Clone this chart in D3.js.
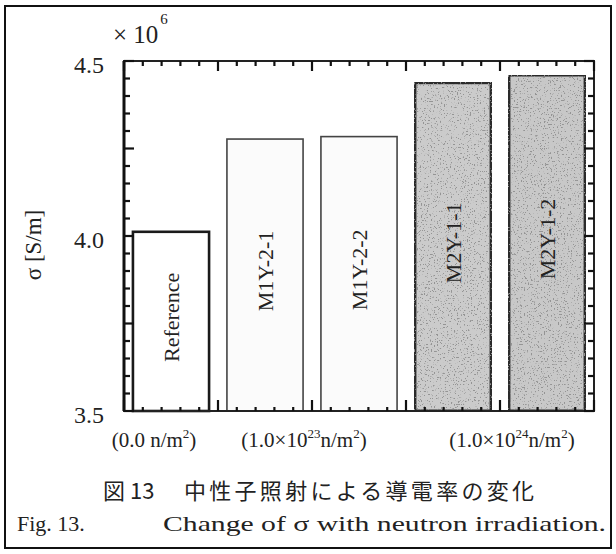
<!DOCTYPE html>
<html>
<head>
<meta charset="utf-8">
<script src="https://cdn.jsdelivr.net/npm/d3@7"></script>
<style>
  body { margin: 0; background: #fff; }
  svg { display: block; }
</style>
</head>
<body>
<div id="chart"></div>
<script>
// DATA
const categories = ["Reference", "M1Y-2-1", "M1Y-2-2", "M2Y-1-1", "M2Y-1-2"];
const sigmaValues = [4.012, 4.277, 4.284, 4.438, 4.460];   // x 10^6 S/m
const fluenceGroup = [0, 1, 1, 2, 2];
const fluenceLabels = [
  [["(0.0 n/m", ""], ["2", "sup"], [")", ""]],
  [["(1.0×10", ""], ["23", "sup"], ["n/m", ""], ["2", "sup"], [")", ""]],
  [["(1.0×10", ""], ["24", "sup"], ["n/m", ""], ["2", "sup"], [")", ""]]
];
const yTickValues = [3.5, 4.0, 4.5];
const yTickLabels = ["3.5", "4.0", "4.5"];

function draw() {
  const W = 616, H = 554;
  const plot = {left: 124, right: 594, top: 61, bottom: 411};

  const svg = d3.select("#chart").append("svg")
    .attr("width", W)
    .attr("height", H);

  // speckle texture for the shaded bars (sparse dark dots)
  const defs = svg.append("defs");
  const f = defs.append("filter").attr("id", "grain")
    .attr("x", 0).attr("y", 0).attr("width", 1).attr("height", 1);
  f.append("feTurbulence").attr("type", "fractalNoise")
    .attr("baseFrequency", 0.7).attr("numOctaves", 2).attr("seed", 5).attr("result", "noise");
  f.append("feColorMatrix").attr("in", "noise").attr("type", "matrix")
    .attr("values", "0 0 0 0 0.3  0 0 0 0 0.3  0 0 0 0 0.3  -12 0 0 0 4.6")
    .attr("result", "dots");
  f.append("feComposite").attr("in", "dots").attr("in2", "SourceGraphic").attr("operator", "in").attr("result", "d2");
  f.append("feMerge").call(m => {
    m.append("feMergeNode").attr("in", "SourceGraphic");
    m.append("feMergeNode").attr("in", "d2");
  });

  // outer figure border
  svg.append("rect")
    .attr("x", 5).attr("y", 6)
    .attr("width", 606).attr("height", 542)
    .attr("fill", "none")
    .attr("stroke", "#111")
    .attr("stroke-width", 2);

  // SCALES
  const xs = d3.scaleBand()
    .domain(categories)
    .range([plot.left, plot.right])
    .paddingInner(0.19)
    .paddingOuter(0.095);

  const xt = d3.scaleLinear().domain([0, categories.length]).range([plot.left, plot.right]);

  const ys = d3.scaleLinear()
    .domain([3.5, 4.5])
    .range([plot.bottom, plot.top]);

  // BARS
  const fills = ["#ffffff", "#fbfbfb", "#fbfbfb", "#cbcbcb", "#c8c8c8"];
  const strokes = ["#1a1a1a", "#444", "#444", "#2a2a2a", "#2a2a2a"];
  const widths = [2.6, 1.6, 1.6, 3, 3];

  const bars = svg.selectAll("g.bar")
    .data(categories)
    .enter().append("g")
    .attr("class", "bar");

  bars.append("rect")
    .attr("x", d => xs(d))
    .attr("y", (d, i) => ys(sigmaValues[i]))
    .attr("width", xs.bandwidth())
    .attr("height", (d, i) => ys(3.5) - ys(sigmaValues[i]))
    .attr("fill", (d, i) => fills[i])
    .attr("filter", (d, i) => i >= 3 ? "url(#grain)" : null)
    .attr("stroke", (d, i) => strokes[i])
    .attr("stroke-width", (d, i) => widths[i]);

  bars.append("text")
    .attr("transform", (d, i) => {
      const cx = xs(d) + xs.bandwidth() / 2;
      const cy = (ys(sigmaValues[i]) + ys(3.5)) / 2 - 4;
      return `translate(${cx},${cy}) rotate(-90)`;
    })
    .attr("text-anchor", "middle")
    .attr("dy", "0.35em")
    .style("font-family", "Liberation Serif, serif")
    .style("font-size", "22px")
    .style("fill", "#222")
    .text(d => d);

  // FRAME + TICKS
  svg.append("rect")
    .attr("x", plot.left).attr("y", plot.top)
    .attr("width", plot.right - plot.left)
    .attr("height", plot.bottom - plot.top)
    .attr("fill", "none")
    .attr("stroke", "#222")
    .attr("stroke-width", 2);
  // left axis is drawn heavier in the original
  svg.append("line")
    .attr("x1", plot.left).attr("x2", plot.left)
    .attr("y1", plot.top).attr("y2", plot.bottom)
    .attr("stroke", "#111").attr("stroke-width", 3);

  const yMinor = d3.range(0, 21).map(i => 3.5 + i * 0.05);
  const tickG = svg.append("g").attr("stroke", "#111").attr("stroke-width", 2.2);

  yMinor.forEach((v, i) => {
    const len = i % 5 === 0 ? 10 : 6;
    tickG.append("line")
      .attr("x1", plot.left).attr("x2", plot.left + len)
      .attr("y1", ys(v)).attr("y2", ys(v));
    tickG.append("line")
      .attr("x1", plot.right).attr("x2", plot.right - len)
      .attr("y1", ys(v)).attr("y2", ys(v));
  });

  const xMinor = d3.range(0, categories.length * 5 + 1).map(i => i / 5);
  xMinor.forEach((v, i) => {
    const major = i % 5 === 0;
    tickG.append("line")
      .attr("x1", xt(v)).attr("x2", xt(v))
      .attr("y1", plot.top).attr("y2", plot.top + (major ? 10 : 5));
    tickG.append("line")
      .attr("x1", xt(v)).attr("x2", xt(v))
      .attr("y1", plot.bottom).attr("y2", plot.bottom - (major ? 11 : 4));
  });

  // Y tick labels
  svg.selectAll("text.ytick")
    .data(yTickValues)
    .enter().append("text")
    .attr("class", "ytick")
    .attr("x", 104)
    .attr("y", d => ys(d) + 4)
    .attr("dy", "0.35em")
    .attr("text-anchor", "end")
    .style("font-family", "Liberation Serif, serif")
    .style("font-size", "24px")
    .style("fill", "#222")
    .text((d, i) => yTickLabels[i]);

  // x 10^6
  const mult = svg.append("text")
    .attr("x", 113).attr("y", 43)
    .style("font-family", "Liberation Serif, serif")
    .style("font-size", "25px")
    .style("fill", "#222");
  mult.append("tspan").text("× 10");
  mult.append("tspan").attr("dx", 2).attr("dy", -19).style("font-size", "15px").text("6");

  // y axis title
  svg.append("text")
    .attr("transform", "translate(41,245) rotate(-90)")
    .attr("text-anchor", "middle")
    .style("font-family", "Liberation Serif, serif")
    .style("font-size", "23px")
    .style("fill", "#222")
    .text("σ [S/m]");

  // fluence group labels under the axis
  const groupCenters = fluenceLabels.map((p, g) => {
    const members = categories.filter((c, i) => fluenceGroup[i] === g);
    return d3.mean(members, c => xs(c) + xs.bandwidth() / 2);
  });
  const groupShift = [-17, -8, 12];

  fluenceLabels.forEach((parts, g) => {
    const t = svg.append("text")
      .attr("x", groupCenters[g] + groupShift[g])
      .attr("y", 447)
      .attr("text-anchor", "middle")
      .style("font-family", "Liberation Serif, serif")
      .style("font-size", "21px")
      .style("fill", "#222");
    parts.forEach(([s, kind], k) => {
      const prev = k > 0 ? parts[k - 1][1] : "";
      const sp = t.append("tspan").text(s);
      if (kind === "sup") sp.attr("dy", -9).style("font-size", "13px");
      else if (prev === "sup") sp.attr("dy", 9);
    });
  });

  // captions
  svg.append("text")
    .attr("x", 103).attr("y", 499)
    .style("font-family", "Noto Sans CJK JP, sans-serif")
    .style("font-size", "22px")
    .style("fill", "#222")
    .text("図 13");

  svg.append("text")
    .attr("x", 184).attr("y", 499)
    .attr("textLength", 350)
    .attr("lengthAdjust", "spacing")
    .style("font-family", "Noto Sans CJK JP, sans-serif")
    .style("font-size", "22px")
    .style("fill", "#222")
    .text("中性子照射による導電率の変化");

  svg.append("text")
    .attr("x", 17).attr("y", 531)
    .style("font-family", "Liberation Serif, serif")
    .style("font-size", "22px")
    .style("fill", "#222")
    .text("Fig. 13.");

  svg.append("text")
    .attr("x", 163).attr("y", 531)
    .attr("textLength", 443)
    .attr("lengthAdjust", "spacingAndGlyphs")
    .style("font-family", "Liberation Serif, serif")
    .style("font-size", "22px")
    .style("fill", "#222")
    .text("Change of σ with neutron irradiation.");
}

draw();
</script>
</body>
</html>
